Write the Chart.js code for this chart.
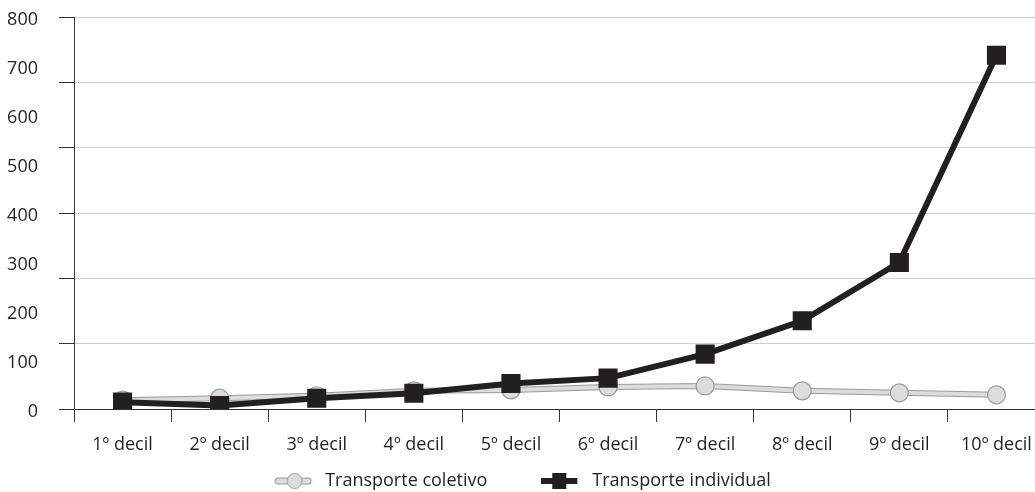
<!DOCTYPE html>
<html>
<head>
<meta charset="utf-8">
<script src="https://cdn.jsdelivr.net/npm/chart.js@4.4.1/dist/chart.umd.min.js"></script>
<style>
  html, body { margin: 0; padding: 0; background: #fff; overflow: hidden; }
  /* canvas is a bit wider than the window and pulled left, so the plot
     runs to the right edge and the legend sits where the original has it */
  #chart { display: block; margin-left: -14px; }
</style>
</head>
<body>
<canvas id="chart" width="1060" height="500"></canvas>
<script>
// categories and series
const deciles = ['1º decil', '2º decil', '3º decil', '4º decil', '5º decil',
                 '6º decil', '7º decil', '8º decil', '9º decil', '10º decil'];
const coletivo = [18, 22, 27, 37, 39, 45, 47, 37, 33, 29];
const individual = [14, 7, 22, 32, 52, 63, 112, 180, 299, 722];
const yLabels = [0, 100, 200, 300, 400, 500, 600, 700, 800];
// the original draws its gridlines in 6 steps, not at the labels
const gridSteps = 6;
const yMax = 800;

const ink = '#231f20';
const fontSize = 18;

// little legend icons: line with its marker
function makeIcon(kind) {
    const c = document.createElement('canvas');
    c.width = 42; c.height = 20;
    const g = c.getContext('2d');
    if (kind === 'circle') {
        g.lineCap = 'round';
        g.strokeStyle = '#9a9a9a'; g.lineWidth = 7;
        g.beginPath(); g.moveTo(4, 10); g.lineTo(34, 10); g.stroke();
        g.strokeStyle = '#dcdcdc'; g.lineWidth = 5;
        g.beginPath(); g.moveTo(4, 10); g.lineTo(34, 10); g.stroke();
        g.fillStyle = '#dcdcdc'; g.strokeStyle = '#9a9a9a'; g.lineWidth = 1;
        g.beginPath(); g.arc(20.5, 10, 7.5, 0, Math.PI * 2); g.fill(); g.stroke();
    } else {
        g.strokeStyle = ink; g.lineWidth = 6;
        g.beginPath(); g.moveTo(0, 10); g.lineTo(36, 10); g.stroke();
        g.fillStyle = ink;
        g.fillRect(11, 2, 14, 16);
    }
    return c;
}
const icons = { coletivo: makeIcon('circle'), individual: makeIcon('square') };

new Chart('chart', {
    type: 'line',
    data: {
        labels: deciles,
        datasets: [{
            label: 'borda',
            data: coletivo,
            borderColor: '#9a9a9a',
            borderWidth: 6,
            pointRadius: 0,
            order: 3
        }, {
            label: 'Transporte coletivo',
            data: coletivo,
            borderColor: '#dcdcdc',
            borderWidth: 4,
            pointStyle: 'circle',
            pointRadius: 9,
            pointBackgroundColor: '#dcdcdc',
            pointBorderColor: '#9a9a9a',
            pointBorderWidth: 1.2,
            order: 2
        }, {
            label: 'Transporte individual',
            data: individual,
            borderColor: ink,
            borderWidth: 6,
            pointStyle: 'rect',
            pointRadius: 13.5,
            pointBackgroundColor: ink,
            pointBorderColor: ink,
            pointBorderWidth: 0,
            order: 1
        }]
    },
    options: {
        responsive: false,
        animation: false,
        layout: { autoPadding: false, padding: { top: 17, right: 1, left: 14, bottom: 0 } },
        scales: {
            x: {
                offset: true,
                grid: {
                    offset: true,
                    drawOnChartArea: false,
                    drawTicks: true,
                    tickLength: 13,
                    tickColor: '#333'
                },
                border: { color: '#333', width: 1 },
                ticks: {
                    color: ink,
                    padding: 12,
                    maxRotation: 0,
                    autoSkip: false,
                    font: { family: 'Open Sans', size: fontSize }
                },
                afterFit: s => {
                    // labels hang down into the legend band, so no clipping
                    s.height = 9;
                    s.paddingLeft = 0;
                    s.paddingRight = 0;
                    s._computeLabelArea = () => undefined;
                }
            },
            y: {
                min: 0,
                max: yMax,
                weight: 0,
                position: 'left',
                afterBuildTicks: s => {
                    s.ticks = [];
                    for (let i = 0; i <= gridSteps; i++) s.ticks.push({ value: i * yMax / gridSteps });
                },
                grid: {
                    color: ctx => ctx.tick && ctx.tick.value === 0 ? '#333' : '#cfcfcf',
                    tickColor: '#333',
                    tickLength: 15,
                    lineWidth: 1
                },
                border: { color: '#333', width: 1 },
                ticks: { display: false, padding: 0 },
                afterFit: s => { s.width = 36; }
            },
            yl: {
                min: 0,
                max: yMax,
                weight: 1,
                position: 'left',
                afterBuildTicks: s => {
                    s.ticks = yLabels.map(v => ({ value: v }));
                },
                grid: { display: false, drawTicks: false },
                border: { display: false },
                ticks: {
                    color: ink,
                    padding: 0,
                    labelOffset: 3,
                    font: { family: 'Open Sans', size: fontSize }
                },
                afterFit: s => { s.width = 38; }
            }
        },
        plugins: {
            tooltip: { enabled: false },
            legend: {
                position: 'bottom',
                labels: {
                    color: ink,
                    font: { family: 'Open Sans', size: fontSize },
                    usePointStyle: true,
                    pointStyleWidth: 42,
                    padding: 54,
                    generateLabels: chart => {
                        const items = Chart.defaults.plugins.legend.labels.generateLabels(chart);
                        return items
                            .filter(it => it.text !== 'borda')
                            .sort((a, b) => a.datasetIndex - b.datasetIndex)
                            .map(it => {
                                it.pointStyle = it.text === 'Transporte coletivo' ? icons.coletivo : icons.individual;
                                return it;
                            });
                    }
                }
            }
        }
    }
});
</script>
</body>
</html>
